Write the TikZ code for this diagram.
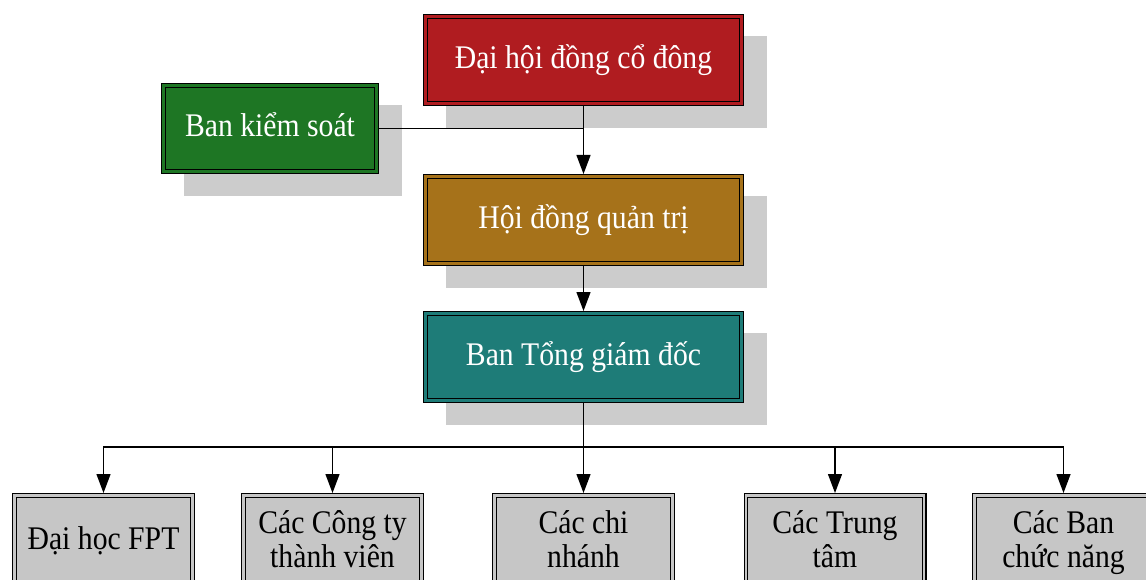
\documentclass[tikz,border=0pt]{standalone}
\usepackage{fontspec}
\setmainfont[FakeStretch=0.9]{Liberation Serif}
\usetikzlibrary{arrows.meta,backgrounds}
\definecolor{cred}{RGB}{176,28,32}
\definecolor{cgreen}{RGB}{30,118,36}
\definecolor{cgold}{RGB}{166,114,26}
\definecolor{cteal}{RGB}{30,124,120}
\definecolor{cgrey}{RGB}{198,198,198}
\definecolor{cshadow}{RGB}{204,204,204}
\begin{document}
\begin{tikzpicture}[x=1pt,y=-1pt,
  box/.style={draw=black, line width=1.2pt, double distance=2.4pt,
    inner sep=0pt, outer sep=2.4pt},
  bigfont/.style={font=\fontsize{33}{34}\selectfont},
  topbox/.style={box, bigfont, text=white, minimum width=316.2pt,
    minimum height=87.2pt, text height=24pt, text depth=7pt},
  colbox/.style={fill=#1, double=#1},
  sidebox/.style={box, bigfont, text=white, minimum width=213.2pt,
    minimum height=86.2pt, text height=24pt, text depth=7pt},
  botbox/.style={box, fill=cgrey, double=cgrey, minimum width=178.2pt,
    minimum height=110pt, anchor=north},
  bottext/.style={bigfont, text=black, align=center, inner sep=0pt, anchor=north},
  conn/.style={draw=black, line width=1.3pt},
  arr/.style={conn, -{Triangle[length=19pt,width=14pt]}},
  shadowbox/.style={fill=cshadow}]
\useasboundingbox (0,0) rectangle (1146,580);
\clip (0,0) rectangle (1146,580);

% main boxes
\node[topbox, colbox=cred]   (dh)   at (583.5,60)    {Đại hội đồng cổ đông};
\node[sidebox, colbox=cgreen] (bks) at (270,128.5)   {Ban kiểm soát};
\node[topbox, colbox=cgold]  (hdqt) at (583.5,220)   {Hội đồng quản trị};
\node[topbox, colbox=cteal]  (btgd) at (583.5,357)   {Ban Tổng giám đốc};

% bottom boxes
\node[botbox] (b1) at (103.5,493) {};
\node[botbox] (b2) at (332.5,493) {};
\node[botbox] (b3) at (583.5,493) {};
\node[botbox] (b4) at (835,493) {};
\node[botbox] (b5) at (1063.5,493) {};
\node[bottext] (t1) at ([yshift=-33.5pt]b1.north) {Đại học FPT};
\node[bottext] (t2) at ([yshift=-17pt]b2.north) {Các Công ty\\thành viên};
\node[bottext] (t3) at ([yshift=-17pt]b3.north) {Các chi\\nhánh};
\node[bottext] (t4) at ([yshift=-17pt]b4.north) {Các Trung\\tâm};
\node[bottext] (t5) at ([yshift=-17pt]b5.north) {Các Ban\\chức năng};

% shadows
\begin{scope}[on background layer]
  \foreach \n in {dh,bks,hdqt,btgd}{
    \fill[shadowbox] ([shift={(23,22)}]\n.north west) rectangle ([shift={(23,22)}]\n.south east);
  }
\end{scope}

% connectors
\draw[conn] (dh.south) -- (dh.south |- bks.east) coordinate (join);
\draw[conn] (bks.east) -- (join);
\draw[arr] (join) -- (hdqt.north);
\draw[arr] (hdqt.south) -- (btgd.north);
\coordinate (bus) at (btgd.south |- 0,447);
\draw[conn] (btgd.south) -- (bus);
\foreach \b in {b1,b2,b3,b4,b5}{
  \draw[arr] (bus) -| (\b.north);
}
\end{tikzpicture}
\end{document}
